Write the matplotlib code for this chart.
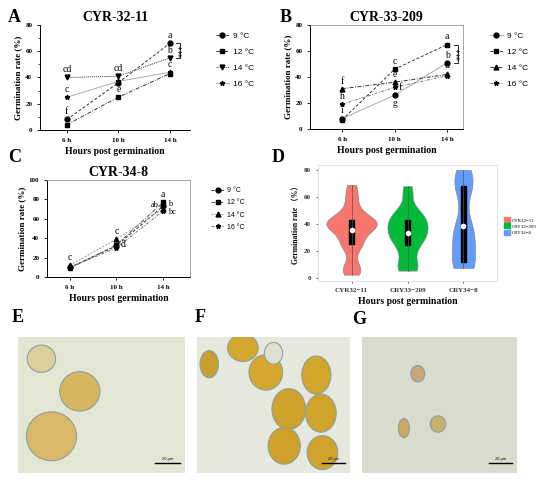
import matplotlib
matplotlib.use("Agg")
import matplotlib.pyplot as plt
import numpy as np
from matplotlib.patches import Ellipse, Rectangle

plt.rcParams['font.family'] = ['Liberation Serif', 'Noto Sans CJK SC', 'DejaVu Sans']

W, H = 550, 480
times = ['6 h', '10 h', '14 h']
temps = ['9 °C', '12 °C', '14 °C', '16 °C']

# panel A: CYR-32-11 germination rate (%)
a_9 = [8, 36, 66]
a_12 = [4, 25, 43]
a_14 = [40, 41, 55]
a_16 = [25, 37, 44]
a_letters = [(0, 8, 'f'), (0, 40, 'cd'), (0, 25, 'c'), (1, 41, 'cd'), (1, 25, 'e'),
             (2, 66, 'a'), (2, 55, 'b'), (2, 44, 'c')]

# panel B: CYR-33-209
b_9 = [8, 26, 51]
b_12 = [7, 46, 65]
b_14 = [31, 36, 42]
b_16 = [19, 32, 41]
b_letters = [(0, 31, 'f'), (0, 19, 'h'), (0, 8, 'i'), (1, 46, 'c'), (1, 36, 'e'),
             (2, 65, 'a'), (2, 51, 'b'), (2, 43, 'd')]

# panel C: CYR-34-8
c_9 = [10, 32, 73]
c_12 = [9, 33, 77]
c_14 = [12, 39, 70]
c_16 = [10, 30, 68]
c_letters = [(0, 12, 'c'), (1, 39, 'c'), (2, 77, 'a')]

# panel D: violin of all rates per strain
d_names = ['CYR32\u221211', 'CRY33\u2212209', 'CRY34\u22128']
d_colors = ['#F8766D', '#00BA38', '#619CFF']

fig = plt.figure(figsize=(W / 100, H / 100), dpi=100)


def px_axes(l, t, r, b):
    return fig.add_axes([l / W, 1 - b / H, (r - l) / W, (b - t) / H])


def fx(x):
    return x / W


def fy(y):
    return 1 - y / H


def line_panel(ax, series, styles, title, ylim, ystep, xlim, letters, box):
    x = np.arange(3)
    for vals, (mk, ls, col, lab) in zip(series, styles):
        ax.plot(x, vals, ls=ls, color=col, lw=0.7, marker=mk, ms=3.5,
                mfc='black', mec='black', label=lab)
    for xi, yi, t in letters:
        ax.text(xi, yi + ylim[1] * 0.03, t, ha='center', va='bottom', fontsize=7)
    ax.set_xlim(*xlim)
    ax.set_ylim(*ylim)
    ax.set_xticks(x)
    ax.set_xticklabels(times, fontsize=5, fontweight='bold')
    ax.set_yticks(np.arange(ylim[0], ylim[1] + 1, ystep))
    ax.tick_params(axis='y', labelsize=5, length=2, width=0.6)
    ax.tick_params(axis='x', length=2, width=0.6)
    for lab in ax.get_yticklabels():
        lab.set_fontweight('bold')
    ax.set_title(title, fontsize=10, fontweight='bold', pad=3)
    ax.set_ylabel('Germination rate (%)', fontsize=6.5, fontweight='bold', labelpad=2)
    ax.set_xlabel('Hours post germination', fontsize=7, fontweight='bold', labelpad=3)
    if box:
        for s in ax.spines.values():
            s.set_color('#999999')
            s.set_linewidth(0.6)
        ax.spines['left'].set_color('black')
        ax.spines['bottom'].set_color('black')
    else:
        ax.spines['top'].set_visible(False)
        ax.spines['right'].set_visible(False)
    ax.spines['left'].set_linewidth(0.7)
    ax.spines['bottom'].set_linewidth(0.7)


def bracket(ax, y1, y2):
    ax.plot([2.12, 2.2, 2.2, 2.12], [y1, y1, y2, y2], color='black', lw=0.6)
    ax.text(2.26, (y1 + y2) / 2, '***', rotation=90, ha='center', va='center',
            fontsize=6, family='DejaVu Sans')


# ---- A ----
axA = px_axes(40, 25, 190, 130)
line_panel(axA, [a_9, a_12, a_14, a_16],
           [('o', (0, (3, 2)), '#333333', temps[0]), ('s', (0, (4, 1.5, 1, 1.5)), '#333333', temps[1]),
            ('v', (0, (1, 1)), '#333333', temps[2]), ('*', '-', '#aaaaaa', temps[3])],
           'CYR-32-11', (0, 80), 20, (-0.52, 2.39), a_letters, False)
axA.set_yticks(np.arange(0, 81, 10), minor=True)
axA.tick_params(axis='y', which='minor', length=1.2, width=0.5)
bracket(axA, a_9[2], a_14[2])
axA.legend(loc='upper left', bbox_to_anchor=(fx(208), fy(25)), bbox_transform=fig.transFigure,
           frameon=False, prop={'family': 'Liberation Sans', 'size': 6}, handlelength=1.6,
           labelspacing=0.95, handletextpad=0.5)

# ---- B ----
axB = px_axes(310, 25, 463, 129)
line_panel(axB, [b_9, b_12, b_14, b_16],
           [('o', '-', '#aaaaaa', temps[0]), ('s', (0, (3, 2)), '#333333', temps[1]),
            ('^', (0, (4, 1.5, 1, 1.5)), '#333333', temps[2]), ('*', (0, (3, 1.5, 1, 1.5)), '#777777', temps[3])],
           'CYR-33-209', (0, 80), 20, (-0.61, 2.3), b_letters, True)
axB.text(1.08, b_16[1], 'f', ha='left', va='center', fontsize=7)
axB.text(1, b_9[1] - 3, 'g', ha='center', va='top', fontsize=7)
bracket(axB, b_12[2], b_9[2])
axB.legend(loc='upper left', bbox_to_anchor=(fx(482), fy(25)), bbox_transform=fig.transFigure,
           frameon=False, prop={'family': 'Liberation Sans', 'size': 6}, handlelength=1.6,
           labelspacing=0.95, handletextpad=0.5)

# ---- C ----
axC = px_axes(47, 180, 190, 277)
line_panel(axC, [c_9, c_12, c_14, c_16],
           [('o', (0, (3, 2)), '#333333', temps[0]), ('s', (0, (4, 1.5, 1, 1.5)), '#555555', temps[1]),
            ('^', (0, (2, 1.5)), '#999999', temps[2]), ('*', (0, (3, 1.5, 1, 1.5)), '#777777', temps[3])],
           'CYR-34-8', (0, 100), 20, (-0.49, 2.58), c_letters, True)
axC.text(1.08, c_12[1], 'd', ha='left', va='center', fontsize=7)
axC.text(1.9, c_9[2] + 1, 'ab', ha='right', va='center', fontsize=6)
axC.text(2.1, c_9[2] + 2, 'b', ha='left', va='center', fontsize=6)
axC.text(2.1, c_16[2] - 1, 'bc', ha='left', va='center', fontsize=6)
axC.legend(loc='upper left', bbox_to_anchor=(fx(205), fy(181)), bbox_transform=fig.transFigure,
           frameon=False, prop={'family': 'Liberation Sans', 'size': 5}, handlelength=1.8,
           labelspacing=0.75, handletextpad=0.5)

# ---- D ----
axD = px_axes(318, 165, 497, 281)
d_data = [a_9 + a_12 + a_14 + a_16, b_9 + b_12 + b_14 + b_16, c_9 + c_12 + c_14 + c_16]
kdes = []
for vals in d_data:
    v = np.array(vals, dtype=float)
    q1, q3 = np.percentile(v, [25, 75])
    bw = 0.8 * 0.9 * min(v.std(ddof=1), (q3 - q1) / 1.34) * len(v) ** -0.2
    ys = np.linspace(v.min() - 1.5, v.max() + 3, 200)
    dens = np.exp(-0.5 * ((ys[:, None] - v[None, :]) / bw) ** 2).sum(1) / (len(v) * bw * np.sqrt(2 * np.pi))
    kdes.append((ys, dens))
dmax = max(d.max() for _, d in kdes)
for i, ((ys, dens), vals, col, name) in enumerate(zip(kdes, d_data, d_colors, d_names)):
    pos = i + 1
    w = dens / dmax * 0.45
    axD.fill_betweenx(ys, pos - w, pos + w, color=col, edgecolor='#888888', lw=0.5, label=name)
    q1, med, q3 = np.percentile(vals, [25, 50, 75])
    axD.plot([pos, pos], [ys[0], ys[-1]], color='#555555', lw=0.5)
    axD.add_patch(Rectangle((pos - 0.045, q1), 0.09, q3 - q1, color='black'))
    axD.plot(pos, np.mean(vals), 'o', color='white', ms=3)
axD.set_xlim(0.4, 3.6)
axD.set_ylim(-2.2, 83.7)
axD.set_xticks([1, 2, 3])
axD.set_xticklabels(d_names, fontsize=6, fontweight='bold')
axD.set_yticks([0, 20, 40, 60, 80])
axD.tick_params(labelsize=5, length=1.5, width=0.5, colors='#333333')
for lab in axD.get_yticklabels():
    lab.set_fontweight('bold')
for s in axD.spines.values():
    s.set_color('#dddddd')
    s.set_linewidth(0.6)
axD.set_ylabel('Germination rate （%）', fontsize=5.5, fontweight='bold', labelpad=3)
axD.set_xlabel('Hours post germination', fontsize=7, fontweight='bold', labelpad=3)
handles = [Rectangle((0, 0), 1, 1, color=c) for c in d_colors]
axD.legend(handles, d_names, loc='upper left', bbox_to_anchor=(fx(500), fy(213)),
           bbox_transform=fig.transFigure, frameon=False, prop={'size': 3.5},
           handlelength=1.2, handleheight=1.2, labelspacing=0.2, handletextpad=0.4)

# ---- photo panels E, F, G ----
photos = [
    (18, 185, '#e4e6d4', [(0.14, 0.84, 0.17, 0.2, '#dccf9c'), (0.37, 0.6, 0.24, 0.29, '#d8b660'),
                          (0.2, 0.27, 0.3, 0.36, '#dab86a')]),
    (197, 350, '#e6e8de', [(0.45, 0.74, 0.22, 0.26, '#d4a82c'), (0.08, 0.8, 0.12, 0.2, '#c9a030'),
                           (0.78, 0.72, 0.19, 0.28, '#d2a62a'), (0.6, 0.47, 0.22, 0.3, '#cfa22c'),
                           (0.81, 0.44, 0.2, 0.28, '#d0a42a'), (0.57, 0.2, 0.21, 0.27, '#cfa02a'),
                           (0.82, 0.15, 0.2, 0.25, '#d0a42c'), (0.3, 0.92, 0.2, 0.2, '#d4a830'),
                           (0.5, 0.88, 0.12, 0.16, '#e0e0d0')]),
    (362, 517, '#d9dccc', [(0.36, 0.73, 0.09, 0.12, '#c8a878'), (0.49, 0.36, 0.1, 0.12, '#cbb070'),
                           (0.27, 0.33, 0.07, 0.14, '#c8aa60')]),
]
for l, r, bg, spores in photos:
    ax = px_axes(l, 337, r, 473)
    ax.set_facecolor(bg)
    for cx, cy, ew, eh, c in spores:
        ax.add_patch(Ellipse((cx, cy), ew, eh, facecolor=c, edgecolor='#8aa0a0', lw=0.8,
                             transform=ax.transAxes))
    ax.plot([0.82, 0.97], [0.07, 0.07], color='black', lw=1, transform=ax.transAxes)
    ax.text(0.895, 0.09, '20 μm', fontsize=2.5, ha='center', va='bottom', transform=ax.transAxes,
            family='DejaVu Sans')
    ax.set_xticks([])
    ax.set_yticks([])
    for s in ax.spines.values():
        s.set_visible(False)

# panel letters
for t, x, y in [('A', 8, 17), ('B', 280, 17), ('C', 8, 157), ('D', 272, 157),
                ('E', 12, 318), ('F', 195, 318), ('G', 352, 320)]:
    fig.text(fx(x), fy(y), t, fontsize=13, fontweight='bold', va='center', ha='left')

fig.savefig('out.png', dpi=100)
